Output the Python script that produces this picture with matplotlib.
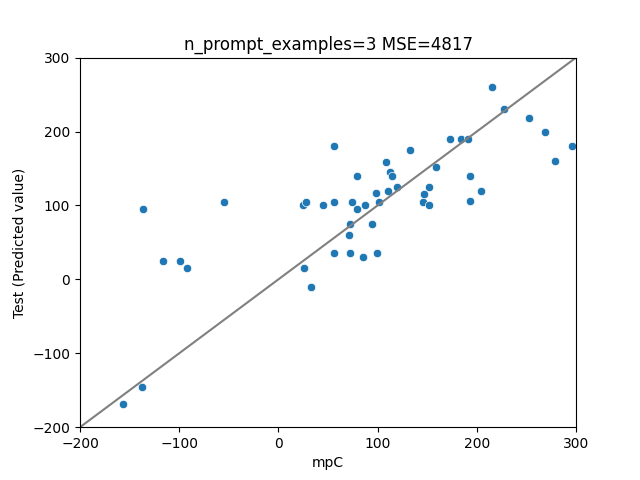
import matplotlib
matplotlib.use("Agg")
import numpy as np
import pandas as pd
import seaborn as sns
from matplotlib import pyplot as plt

# (mpC vs predicted value)
mpc = [
    -136, -55, -116, -99, -92, -157, -137, 25, 28, 45, 26, 33,
    56, 56, 74, 79, 79, 87, 72, 71, 56, 72, 85, 99, 94, 98, 101,
    108, 113, 115, 110, 120, 133, 159, 152, 147, 146, 152, 173,
    184, 191, 193, 193, 204, 215, 227, 253, 269, 279, 296,
]
predicted = [
    95, 105, 25, 25, 15, -168, -145, 100, 105, 100, 15, -11,
    180, 105, 105, 140, 95, 101, 75, 60, 35, 35, 30, 35, 75, 117, 105,
    159, 145, 140, 119, 125, 175, 152, 125, 115, 105, 100, 190,
    190, 190, 140, 106, 120, 260, 231, 218, 199, 160, 180,
]
n_prompt_examples = 3
mse = 4817
lims = [-200, 300]

df = pd.DataFrame({"mpC": mpc, "Test (Predicted value)": predicted})

fig = plt.figure(figsize=(6.4, 4.8), dpi=100)
ax = sns.scatterplot(data=df, x="mpC", y="Test (Predicted value)")
ax.plot(lims, lims, color="gray")
ax.set_xlim(lims)
ax.set_ylim(lims)
ax.set_title(f"n_prompt_examples={n_prompt_examples} MSE={mse}")

fig.savefig("out.png")
plt.close("all")
